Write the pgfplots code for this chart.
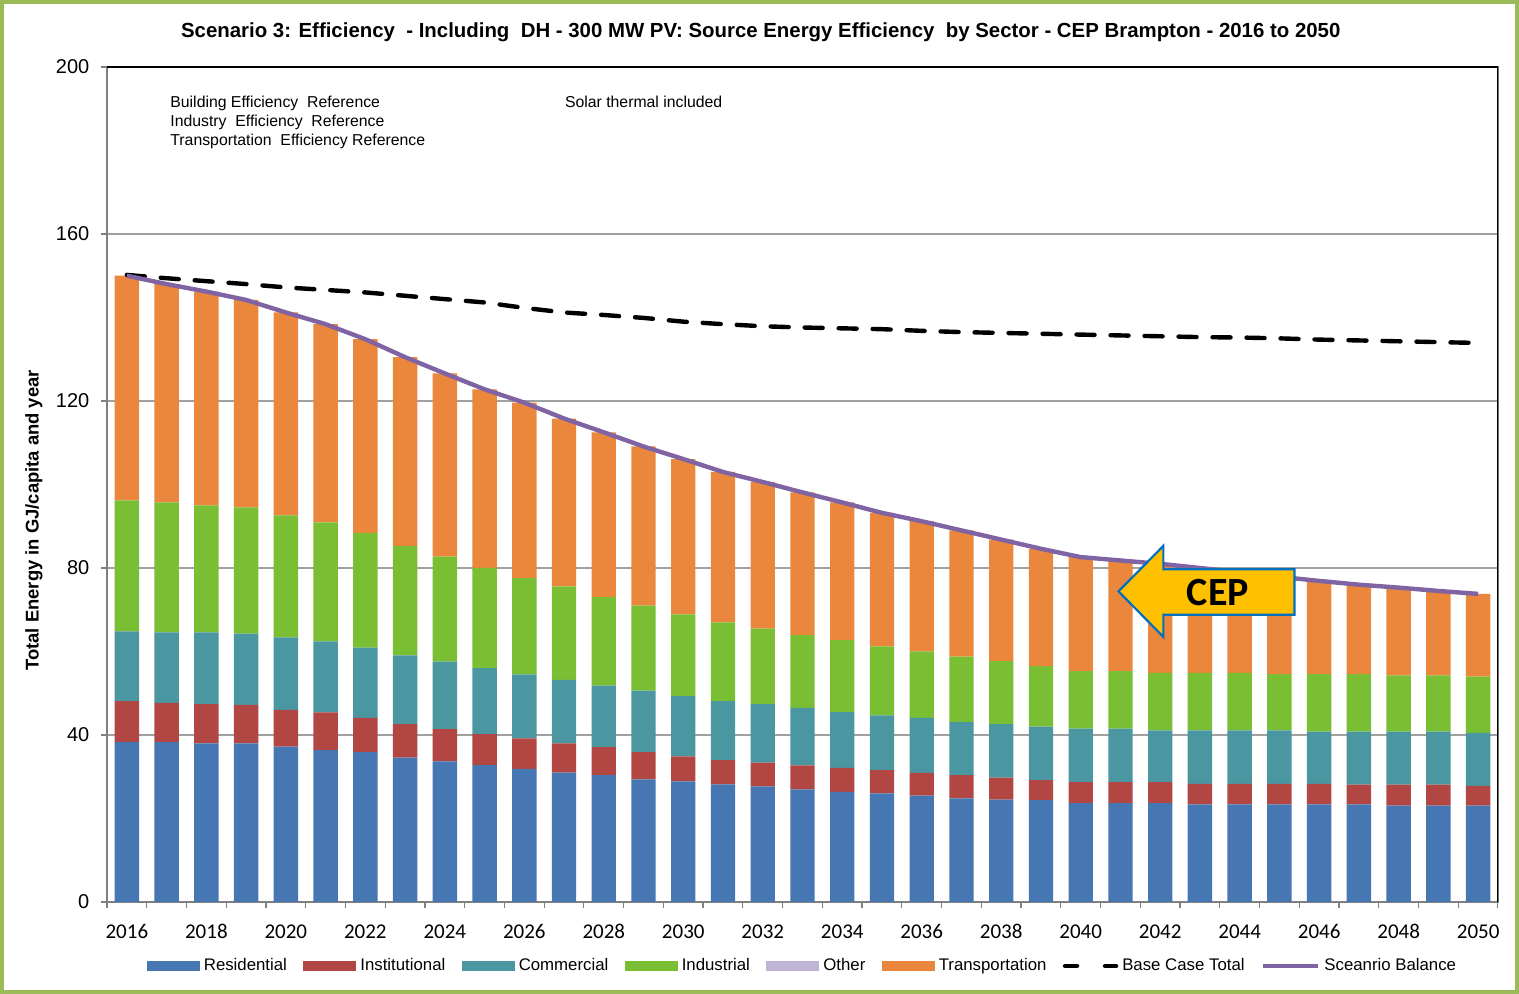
\documentclass[border=0pt]{standalone}
\usepackage{pgfplots}
\pgfplotsset{compat=1.18}
\usepackage{pgfplotstable}
\usepackage{fontspec}
\setmainfont{Liberation Sans}
\newfontfamily\calfont{Carlito}
\definecolor{cRes}{HTML}{4677B3}
\definecolor{cInst}{HTML}{B24643}
\definecolor{cComm}{HTML}{4A96A1}
\definecolor{cInd}{HTML}{79BE33}
\definecolor{cOther}{HTML}{BFB3D6}
\definecolor{cTrans}{HTML}{EA873D}
\definecolor{cBal}{HTML}{7F63A3}
\definecolor{cYel}{HTML}{FFC000}
\definecolor{cBlue}{HTML}{0070C0}
\definecolor{cBorder}{HTML}{9BBB59}
\definecolor{cGrid}{HTML}{A0A0A0}

\pgfplotstableread{
year res  inst comm ind  other trans total base
2016 38.3 9.8  16.7 31.4 0 53.8 150.0 150.2
2017 38.3 9.4  16.9 31.1 0 52.3 148.0 149.4
2018 38.0 9.4  17.2 30.4 0 51.2 146.2 148.7
2019 38.0 9.2  17.1 30.2 0 49.7 144.2 148.0
2020 37.2 8.8  17.4 29.2 0 48.6 141.2 147.2
2021 36.4 9.0  17.0 28.5 0 47.5 138.4 146.6
2022 35.9 8.2  16.8 27.5 0 46.4 134.8 146.0
2023 34.6 8.0  16.5 26.2 0 45.2 130.5 145.2
2024 33.7 7.7  16.2 25.1 0 43.9 126.6 144.4
2025 32.8 7.4  15.8 24.0 0 42.8 122.8 143.6
2026 31.9 7.3  15.3 23.1 0 42.0 119.6 142.3
2027 31.0 7.0  15.2 22.4 0 40.2 115.8 141.2
2028 30.4 6.7  14.7 21.2 0 39.5 112.5 140.6
2029 29.4 6.5  14.7 20.4 0 38.1 109.1 139.9
2030 28.9 6.0  14.4 19.6 0 37.2 106.1 139.0
2031 28.2 5.8  14.1 18.9 0 36.0 103.0 138.4
2032 27.7 5.7  14.0 18.1 0 35.1 100.6 137.9
2033 27.0 5.7  13.8 17.4 0 34.2 98.1  137.6
2034 26.4 5.7  13.4 17.2 0 33.0 95.7  137.4
2035 26.0 5.6  13.1 16.5 0 32.0 93.2  137.2
2036 25.5 5.4  13.2 15.9 0 31.2 91.2  136.8
2037 24.8 5.6  12.7 15.7 0 30.2 89.0  136.5
2038 24.5 5.3  12.8 15.1 0 29.1 86.8  136.3
2039 24.4 4.8  12.8 14.5 0 28.1 84.6  136.1
2040 23.7 5.0  12.8 13.8 0 27.3 82.6  135.9
2041 23.7 5.0  12.8 13.8 0 26.5 81.8  135.7
2042 23.7 5.0  12.4 13.8 0 26.1 81.0  135.5
2043 23.4 4.9  12.8 13.8 0 25.1 80.0  135.3
2044 23.4 4.9  12.8 13.8 0 24.1 79.0  135.2
2045 23.4 4.9  12.8 13.5 0 23.3 77.9  135.0
2046 23.4 4.9  12.5 13.8 0 22.3 76.9  134.7
2047 23.4 4.7  12.7 13.8 0 21.4 76.0  134.5
2048 23.1 5.0  12.7 13.5 0 21.0 75.3  134.3
2049 23.1 5.0  12.7 13.5 0 20.2 74.5  134.1
2050 23.1 4.7  12.7 13.5 0 19.8 73.8  133.9
}\datatable

\pgfplotsset{
  barleg/.style={legend image code/.code={\fill[##1] (0pt,-2.6pt) rectangle (26.5pt,2.6pt);}},
  common/.style={
    at={(53.5pt,46pt)}, anchor=south west,
    scale only axis, width=695.5pt, height=417.5pt,
    xmin=2015.5, xmax=2050.5, ymin=0, ymax=200,
  },
}

\begin{document}
\begin{tikzpicture}
\draw[cBorder, line width=2pt] (1pt,1pt) rectangle (758.5pt,496pt);

\begin{axis}[
  common,
  ybar stacked, bar width=12.2pt,
  ytick={0,40,...,200},
  ymajorgrids, grid style={cGrid, line width=0.6pt},
  xtick={2016,2018,...,2050},
  minor xtick={2015.5,2016.5,...,2050.5},
  tick pos=left, tick align=outside,
  major tick length=2.8pt, minor tick length=3pt,
  major x tick style={draw=none},
  minor x tick style={draw=cGrid!80!black, line width=0.6pt},
  y tick style={draw=cGrid!80!black, line width=0.6pt},
  axis line style={draw=cGrid!80!black, line width=0.7pt},
  /pgf/number format/assume math mode=true,
  /pgf/number format/1000 sep={},
  xticklabel style={font=\calfont\fontsize{10.5}{12}\selectfont, yshift=-4.8pt, text height=7.2pt, text depth=0pt},
  yticklabel style={font=\fontsize{10}{12}\selectfont, xshift=-2.5pt},
  ylabel={Total Energy in GJ/capita and year},
  ylabel style={at={(axis description cs:-0.0525,0.457)}, anchor=center, font=\bfseries\fontsize{9.2}{10}\selectfont},
  title={Scenario 3: Efficiency\ \ - Including\ \ DH - 300 MW PV: Source Energy Efficiency\ \ by Sector - CEP Brampton - 2016 to 2050},
  title style={at={(axis description cs:0.470,1)}, anchor=center, yshift=11.5pt, font=\bfseries\fontsize{10.2}{12}\selectfont},
  legend style={at={(axis description cs:0.5007,-0.0765)}, anchor=center, draw=none, fill=none,
    font=\fontsize{8.4}{9.6}\selectfont, legend columns=8,
    /tikz/every even column/.append style={column sep=6.2pt}},
  legend cell align=left,
]
\addplot[fill=cRes, draw=none, barleg] table[x=year, y=res]{\datatable};
\addlegendentry{Residential}
\addplot[fill=cInst, draw=none, barleg] table[x=year, y=inst]{\datatable};
\addlegendentry{Institutional}
\addplot[fill=cComm, draw=none, barleg] table[x=year, y=comm]{\datatable};
\addlegendentry{Commercial}
\addplot[fill=cInd, draw=none, barleg] table[x=year, y=ind]{\datatable};
\addlegendentry{Industrial}
\addplot[fill=cOther, draw=none, barleg] table[x=year, y=other]{\datatable};
\addlegendentry{Other}
\addplot[fill=cTrans, draw=none, barleg] table[x=year, y=trans]{\datatable};
\addlegendentry{Transportation}
\addlegendimage{legend image code/.code={\draw[black, line width=2.2pt, dash pattern=on 6pt off 14pt, line cap=round] (1pt,0pt) -- (26.5pt,0pt);}}
\addlegendentry{Base Case Total}
\addlegendimage{legend image code/.code={\draw[cBal, line width=2.2pt] (0pt,0pt) -- (27.5pt,0pt);}}
\addlegendentry{Sceanrio Balance}

\node[anchor=north west, align=left, inner sep=0pt, font=\fontsize{7.9}{9.5}\selectfont]
  at (axis description cs:0.0453,0.966) {Building Efficiency\ \ Reference\\Industry\ \ Efficiency\ \ Reference\\Transportation\ \ Efficiency Reference};
\node[anchor=north west, align=left, inner sep=0pt, font=\fontsize{7.9}{9.5}\selectfont]
  at (axis description cs:0.329,0.966) {Solar thermal included};
\draw[black, line width=0.8pt] (rel axis cs:0,1) -- (rel axis cs:1,1) -- (rel axis cs:1,0);
\end{axis}

\begin{axis}[common, hide axis, clip=false]
\addplot[black, line width=2.2pt, dash pattern=on 9pt off 8pt, line cap=round] table[x=year, y=base]{\datatable};
\addplot[cBal, line width=2.2pt] table[x=year, y=total]{\datatable};
\draw[fill=cYel, draw=cBlue, line width=1.1pt, line join=miter]
  (axis cs:2040.95,74.4) -- (axis cs:2042.08,85.3) -- (axis cs:2042.08,79.7)
  -- (axis cs:2045.38,79.7) -- (axis cs:2045.38,68.8) -- (axis cs:2042.08,68.8)
  -- (axis cs:2042.08,63.5) -- cycle;
\node[font=\calfont\bfseries\fontsize{20}{22}\selectfont, inner sep=0pt] at (axis cs:2043.45,74.2) {CEP};
\end{axis}
\end{tikzpicture}
\end{document}
